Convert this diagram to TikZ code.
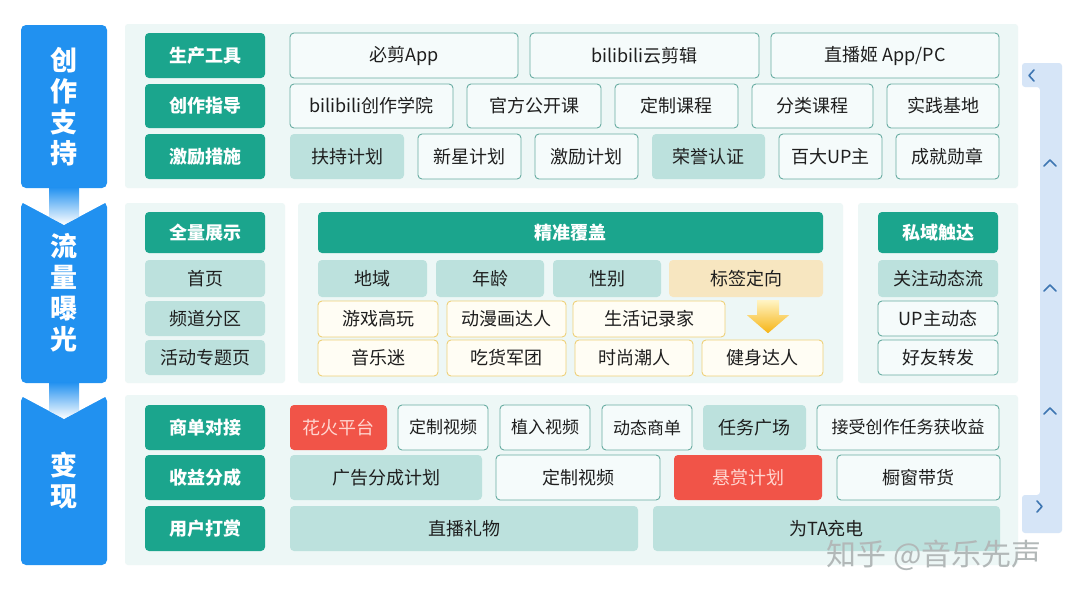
\documentclass[tikz,border=0pt]{standalone}
\usepackage{fontspec}
\setmainfont{Noto Sans CJK SC}
\usetikzlibrary{calc}
\definecolor{stageblue}{RGB}{33,145,240}
\definecolor{headteal}{RGB}{27,165,141}
\definecolor{softteal}{RGB}{188,225,221}
\definecolor{lineteal}{RGB}{104,172,162}
\definecolor{itemfill}{RGB}{245,251,251}
\definecolor{panelbg}{RGB}{237,247,246}
\definecolor{hotred}{RGB}{241,84,72}
\definecolor{hottext}{RGB}{255,214,208}
\definecolor{tagline}{RGB}{238,208,120}
\definecolor{tagfill}{RGB}{255,253,244}
\definecolor{tagsel}{RGB}{247,230,192}
\definecolor{arrowtop}{RGB}{255,244,196}
\definecolor{arrowbot}{RGB}{246,180,20}
\definecolor{barblue}{RGB}{214,229,247}
\definecolor{chevblue}{RGB}{62,118,178}
\definecolor{inktext}{RGB}{30,30,30}
\definecolor{marktext}{RGB}{178,184,184}

\begin{document}
\begin{tikzpicture}[x=1pt, y=-1pt,
  stage/.style={fill=stageblue, rounded corners=5, text=white, align=center,
    font=\bfseries\fontsize{27}{31}\selectfont, minimum width=86, inner sep=0},
  head/.style={fill=headteal, rounded corners=4, text=white,
    font=\bfseries\fontsize{18}{20}\selectfont, minimum width=120, minimum height=45, inner sep=0},
  box/.style={rounded corners=4, text=inktext, font=\fontsize{18}{20}\selectfont,
    minimum height=45, inner sep=0},
  item/.style={box, draw=lineteal, fill=itemfill, line width=0.9},
  soft/.style={box, fill=softteal},
  tag/.style={box, draw=tagline, fill=tagfill, line width=0.9, minimum height=36},
  hot/.style={box, fill=hotred, text=hottext},
  smalltext/.style={font=\fontsize{17}{19}\selectfont},
  panel/.style={fill=panelbg, rounded corners=3},
  chev/.style={draw=chevblue, line width=1.6, line cap=round, line join=round}
]
\fill[white] (0,0) rectangle (1080,589);
\useasboundingbox (0,0) rectangle (1080,589);

\fill[panel] (125,24) rectangle (1018,188);
\fill[panel] (125,203) rectangle (285,383);
\fill[panel] (298,203) rectangle (843,383);
\fill[panel] (858,203) rectangle (1018,383);
\fill[panel] (125,395) rectangle (1018,565);

\fill[barblue, rounded corners=3] (1022,63) -- (1062,63) -- (1062,533) -- (1022,533)
  -- (1022,495) -- (1040,495) -- (1040,87) -- (1022,87) -- cycle;
\draw[chev] (1034,70) -- (1029,75.5) -- (1034,81);
\draw[chev] (1037,501) -- (1042,506.5) -- (1037,512);
\foreach \y in {163,288,411}
  \draw[chev] (1044,\y+3) -- (1050,\y-3) -- (1056,\y+3);

\node (create) [stage, minimum height=163] at (64,106.5) {创\\作\\支\\持};
\node (flow) [stage, minimum height=181] at (64,292.5) {流\\量\\曝\\光};
\node (cash) [stage, minimum height=169] at (64,480.5) {变\\现};

\fill[white] (flow.north west) -- ($(flow.north)+(0,23)$) -- (flow.north east) -- cycle;
\fill[white] (cash.north west) -- ($(cash.north)+(0,23)$) -- (cash.north east) -- cycle;
\begin{scope}
  \clip ($(flow.north west)+(0,-15)$) -- (flow.north west) -- ($(flow.north)+(0,23)$)
    -- (flow.north east) -- ($(flow.north east)+(0,-15)$) -- cycle;
  \shade[top color=stageblue, bottom color=white] ($(create.south)+(-15,-1)$) rectangle ($(flow.north)+(15,23)$);
\end{scope}
\begin{scope}
  \clip ($(cash.north west)+(0,-14)$) -- (cash.north west) -- ($(cash.north)+(0,23)$)
    -- (cash.north east) -- ($(cash.north east)+(0,-14)$) -- cycle;
  \shade[top color=stageblue, bottom color=white] ($(flow.south)+(-15,-1)$) rectangle ($(cash.north)+(15,23)$);
\end{scope}

\node (tool) [head] at (205,55.5) {生产工具};
\node (guide) [head, minimum height=44] at (205,106) {创作指导};
\node (bonus) [head] at (205,156.5) {激励措施};
\node (bcut) [item, minimum width=228] at (404,55.5) {必剪App};
\node (cloud) [item, minimum width=229] at (644.5,55.5) {bilibili云剪辑};
\node (live) [item, minimum width=228] at (885,55.5) {直播姬 App/PC};
\node (school) [item, minimum width=163, minimum height=44] at (371.5,106) {bilibili创作学院};
\node (open) [item, minimum width=134, minimum height=44] at (534,106) {官方公开课};
\node (custom) [item, minimum width=123, minimum height=44] at (676.5,106) {定制课程};
\node (sorted) [item, minimum width=121, minimum height=44] at (812.5,106) {分类课程};
\node (base) [item, minimum width=112, minimum height=44] at (943,106) {实践基地};
\node (support) [soft, minimum width=114] at (347,156.5) {扶持计划};
\node (star) [item, minimum width=103] at (469.5,156.5) {新星计划};
\node (spur) [item, minimum width=103] at (586.5,156.5) {激励计划};
\node (honor) [soft, minimum width=113] at (708.5,156.5) {荣誉认证};
\node (topup) [item, minimum width=103] at (830.5,156.5) {百大UP主};
\node (badge) [item, minimum width=103] at (947.5,156.5) {成就勋章};

\node (full) [head, minimum height=41] at (205,232.5) {全量展示};
\node (home) [soft, minimum width=120, minimum height=37] at (205,278.5) {首页};
\node (channel) [soft, minimum width=120, minimum height=35] at (205,318.5) {频道分区};
\node (event) [soft, minimum width=120, minimum height=35] at (205,357.5) {活动专题页};

\node (precise) [head, minimum width=505, minimum height=41] at (570.5,232.5) {精准覆盖};
\node (region) [soft, minimum width=109, minimum height=37] at (372.5,278.5) {地域};
\node (age) [soft, minimum width=108, minimum height=37] at (490,278.5) {年龄};
\node (gender) [soft, minimum width=108, minimum height=37] at (607,278.5) {性别};
\node (tagdir) [soft, fill=tagsel, minimum width=154, minimum height=37] at (746,278.5) {标签定向};
\node (gamer) [tag, minimum width=120] at (378,319) {游戏高玩};
\node (anime) [tag, minimum width=119] at (506.5,319) {动漫画达人};
\node (life) [tag, minimum width=152] at (649,319) {生活记录家};
\node (music) [tag, minimum width=120] at (378,358) {音乐迷};
\node (foodie) [tag, minimum width=119] at (506.5,358) {吃货军团};
\node (fashion) [tag, minimum width=118] at (634,358) {时尚潮人};
\node (fitness) [tag, minimum width=121] at (762.5,358) {健身达人};
\shade[top color=arrowtop, bottom color=arrowbot] ($(tagdir.south)+(11,3)$) -- ($(tagdir.south)+(33,3)$)
  -- ($(tagdir.south)+(33,18)$) -- ($(tagdir.south)+(43,18)$) -- ($(tagdir.south)+(22,36)$)
  -- ($(tagdir.south)+(1,18)$) -- ($(tagdir.south)+(11,18)$) -- cycle;

\node (private) [head, minimum height=41] at (938,232.5) {私域触达};
\node (follow) [soft, minimum width=120, minimum height=37] at (938,278.5) {关注动态流};
\node (upfeed) [item, minimum width=120, minimum height=35] at (938,318.5) {UP主动态};
\node (share) [item, minimum width=120, minimum height=35] at (938,357.5) {好友转发};

\node (deal) [head] at (205,427.5) {商单对接};
\node (split) [head] at (205,477.5) {收益分成};
\node (reward) [head] at (205,528.5) {用户打赏};
\node (spark) [hot, minimum width=97] at (338.5,427.5) {花火平台};
\node (customv) [item, smalltext, minimum width=90] at (443,427.5) {定制视频};
\node (placed) [item, smalltext, minimum width=90] at (545,427.5) {植入视频};
\node (feeddeal) [item, smalltext, minimum width=90] at (647,427.5) {动态商单};
\node (square) [soft, minimum width=103] at (754.5,427.5) {任务广场};
\node (accept) [item, smalltext, minimum width=182] at (908,427.5) {接受创作任务获收益};
\node (adshare) [soft, minimum width=192] at (386,477.5) {广告分成计划};
\node (customw) [item, minimum width=164] at (578,477.5) {定制视频};
\node (bounty) [hot, minimum width=148] at (748,477.5) {悬赏计划};
\node (window) [item, minimum width=163] at (918.5,477.5) {橱窗带货};
\node (gift) [soft, minimum width=348] at (464,528.5) {直播礼物};
\node (charge) [soft, minimum width=347] at (826.5,528.5) {为TA充电};

\node (mark) [text=marktext, font=\fontsize{30}{32}\selectfont] at (934,555) {知乎 @音乐先声};
\end{tikzpicture}
\end{document}
